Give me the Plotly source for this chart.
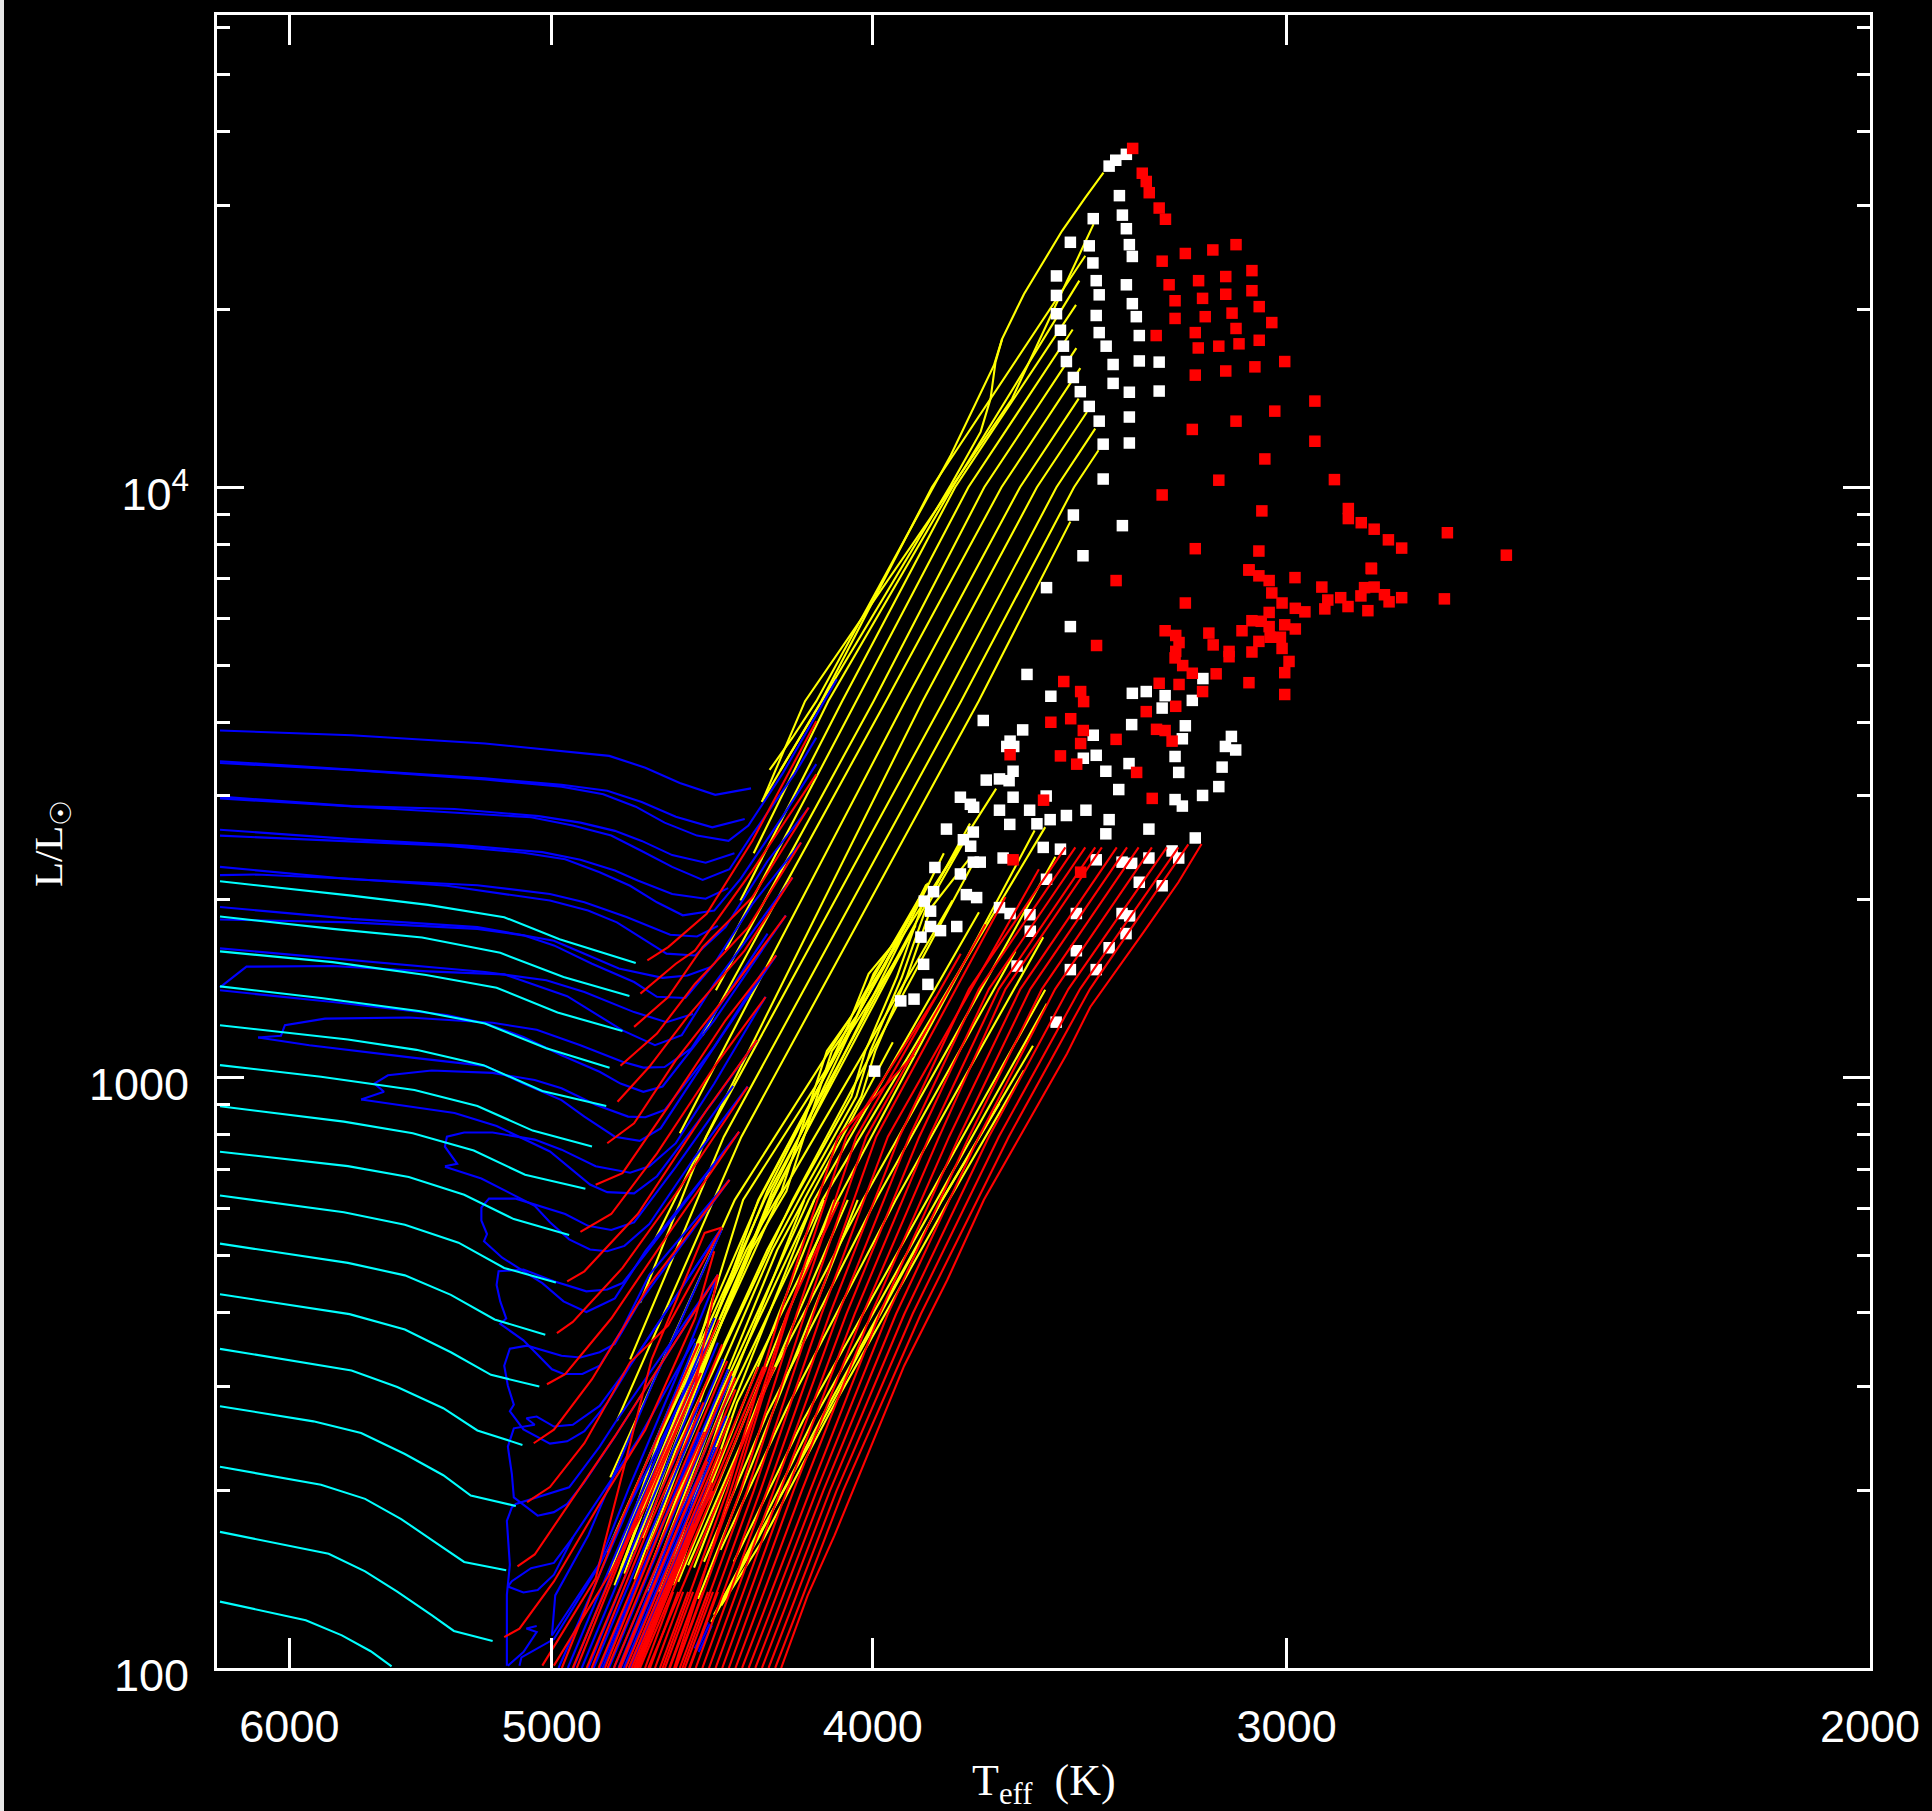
import plotly.graph_objects as go

# ---- tick labels ----
x_ticks = [6000, 5000, 4000, 3000, 2000]
y_ticks = [100, 1000, 10000]
y_tick_text = ["100", "1000", "10<sup>4</sup>"]
y_minor = [200, 300, 400, 500, 600, 700, 800, 900, 2000, 3000, 4000, 5000, 6000, 7000, 8000, 9000, 20000, 30000, 40000, 50000, 60000]

# ---- cyan tracks: log Teff, log L ----
cyan_logT = [
 [3.7991,3.7594,3.7363,3.7133,3.6966,3.6736],
 [3.7991,3.7651,3.7381,3.7145,3.6954,3.6755],
 [3.7991,3.7651,3.7369,3.7156,3.6972,3.6776],
 [3.7991,3.7686,3.7386,3.7191,3.7006,3.6815],
 [3.7991,3.7605,3.7398,3.7196,3.7018,3.6825],
 [3.7991,3.7686,3.7404,3.7214,3.7047,3.6868],
 [3.7991,3.7617,3.7409,3.7225,3.7070,3.6888],
 [3.7991,3.7605,3.7421,3.7254,3.7104,3.6937],
 [3.7991,3.7617,3.7433,3.7271,3.7133,3.6977],
 [3.7991,3.7605,3.7433,3.7294,3.7162,3.7009],
 [3.7991,3.7600,3.7433,3.7294,3.7173,3.7027],
 [3.7991,3.7594,3.7456,3.7317,3.7214,3.7078],
 [3.7991,3.7709,3.7565,3.7433,3.7317,3.7234,3.7098],
 [3.7991,3.7686,3.7553,3.7444,3.7340,3.7254,3.7127],
 [3.7991,3.7663,3.7553,3.7456,3.7352,3.7285,3.7168],
 [3.7991,3.7732,3.7623,3.7536,3.7473],
]
cyan_logL = [
 [3.3326,3.3083,3.2926,3.2717,3.2346,3.1941],
 [3.2729,3.2520,3.2374,3.2115,3.1704,3.1383],
 [3.2138,3.1957,3.1738,3.1524,3.1102,3.0792],
 [3.1546,3.1349,3.1124,3.0916,3.0499,3.0167],
 [3.0888,3.0646,3.0471,3.0212,2.9773,2.9520],
 [3.0212,3.0015,2.9790,2.9520,2.9103,2.8833],
 [2.9514,2.9255,2.9058,2.8765,2.8354,2.8118],
 [2.8746,2.8501,2.8318,2.8016,2.7604,2.7336],
 [2.8004,2.7719,2.7507,2.7205,2.6776,2.6531],
 [2.7188,2.6862,2.6651,2.6320,2.5903,2.5646],
 [2.6331,2.5994,2.5732,2.5349,2.4966,2.4767],
 [2.5406,2.5041,2.4761,2.4401,2.4024,2.3779],
 [2.4435,2.4178,2.3979,2.3625,2.3265,2.2922,2.2745],
 [2.3408,2.3105,2.2865,2.2523,2.2123,2.1797,2.1655],
 [2.2306,2.1934,2.1637,2.1295,2.0895,2.0627,2.0456],
 [2.1124,2.0810,2.0553,2.0284,2.0027],
]

# ---- blue tracks ----
blue_logT = [
 [3.7991,3.7594,3.7191,3.6960,3.6816,3.6707,3.6603,3.6496,3.6388],
 [3.7991,3.7594,3.7191,3.6960,3.6822,3.6718,3.6615,3.6505,3.6407],
 [3.7991,3.7594,3.7191,3.6960,3.6834,3.6736,3.6649,3.6551,3.6456,3.6396,3.6294,3.6129],
 [3.7991,3.7594,3.7283,3.7029,3.6903,3.6799,3.6718,3.6626,3.6525,3.6438],
 [3.7991,3.7594,3.7283,3.7052,3.6926,3.6810,3.6718,3.6626,3.6534,3.6453,3.6390,3.6257,3.6191],
 [3.7991,3.7594,3.7248,3.7018,3.6903,3.6799,3.6730,3.6626,3.6525,3.6457],
 [3.7991,3.7594,3.7306,3.7075,3.6949,3.6845,3.6753,3.6672,3.6594,3.6499,3.6419,3.6292,3.6191],
 [3.7991,3.7594,3.7214,3.6995,3.6891,3.6764,3.6632,3.6551,3.6488],
 [3.7991,3.7882,3.7594,3.7306,3.6995,3.6880,3.6793,3.6707,3.6643,3.6557,3.6465,3.6338,3.6214],
 [3.7991,3.7594,3.7214,3.6983,3.6891,3.6787,3.6655,3.6580,3.6511],
 [3.7991,3.7594,3.7214,3.7075,3.6983,3.6868,3.6741,3.6672,3.6586,3.6499,3.6384,3.6237],
 [3.7991,3.7594,3.7191,3.7006,3.6891,3.6741,3.6643,3.6563],
 [3.7991,3.7911,3.7651,3.7363,3.7133,3.6943,3.6776,3.6678,3.6597,3.6499,3.6263],
 [3.7991,3.7651,3.7306,3.7191,3.7075,3.6960,3.6845,3.6782,3.6713,3.6655,3.6499,3.6283],
 [3.7876,3.7807,3.7795,3.7674,3.7421,3.7168,3.7035,3.6903,3.6776,3.6713,3.6649,3.6569,3.6338],
 [3.7876,3.7721,3.7398,3.7191,3.7075,3.6960,3.6891,3.6799,3.6724,3.6661,3.6499,3.6312],
 [3.7565,3.7496,3.7525,3.7484,3.7352,3.7168,3.7041,3.6960,3.6857,3.6759,3.6707,3.6649,3.6499,3.6344],
 [3.7565,3.7283,3.7156,3.7075,3.6995,3.6874,3.6822,3.6741,3.6672,3.6499,3.6370],
 [3.7312,3.7275,3.7312,3.7306,3.7254,3.7168,3.7041,3.6960,3.6857,3.6753,3.6695,3.6615,3.6499,3.6344],
 [3.7312,3.7202,3.7041,3.6995,3.6937,3.6874,3.6822,3.6770,3.6695,3.6557,3.6398],
 [3.6424,3.6707,3.6799,3.6885,3.6954,3.7018,3.7139,3.7194,3.7185,3.7202,3.7202,3.7179,3.7098,3.6949,3.6880,3.6810,3.6741,3.6615,3.6442],
 [3.6453,3.6695,3.6776,3.6845,3.6897,3.6954,3.6989,3.7075,3.7145,3.7127,3.7145,3.7156,3.7150,3.7075,3.6983,3.6885,3.6822,3.6776,3.6707,3.6424],
 [3.6476,3.6753,3.6822,3.6891,3.6943,3.6995,3.7075,3.7116,3.7104,3.7122,3.7133,3.7116,3.7064,3.6960,3.6903,3.6845,3.6799,3.6730,3.6453],
 [3.6476,3.6741,3.6845,3.6926,3.6983,3.7035,3.7066,3.7041,3.7104,3.7122,3.7110,3.7104,3.7032,3.6983,3.6943,3.6891,3.6799,3.6488],
 [3.7125,3.7125,3.7116,3.7125,3.7110,3.7098,3.6937,3.6845,3.6799,3.6488],
 [3.7122,3.7075,3.7032,3.6983,3.6926,3.6845,3.6730,3.6557],
 [3.7122,3.7110,3.7052,3.6983,3.6926],
 [3.7122,3.7075,3.7035,3.7066,3.7035],
 [3.7087,3.7081,3.6983,3.6845,3.6707,3.6511],
 [3.6989,3.6979,3.6879,3.6688,3.6477],
 [3.6989,3.6849,3.6758,3.6583,3.6488],
 [3.6941,3.6727,3.6498],
 [3.6899,3.6685,3.6488],
 [3.6863,3.6649,3.6472],
 [3.6836,3.6622,3.6457],
 [3.6817,3.6604,3.6447],
 [3.6802,3.6589,3.6447],
 [3.6781,3.6568,3.6462],
 [3.6772,3.6559,3.6493],
 [3.6754,3.6541,3.6518],
 [3.6753,3.6548],
 [3.6757,3.6573],
 [3.6558,3.6518],
 [3.6552,3.6512],
 [3.6546,3.6506],
 [3.6969,3.6774,3.6556],
 [3.6924,3.6745,3.6549],
 [3.6879,3.6700,3.6541],
 [3.6844,3.6652,3.6544],
 [3.6788,3.6610,3.6525],
 [3.6738,3.6556,3.6513],
]
blue_logL = [
 [3.588,3.580,3.566,3.553,3.545,3.525,3.499,3.479,3.490],
 [3.536,3.522,3.507,3.496,3.486,3.467,3.442,3.424,3.438],
 [3.533,3.521,3.505,3.493,3.480,3.459,3.432,3.410,3.401,3.427,3.514,3.675],
 [3.476,3.460,3.455,3.443,3.432,3.418,3.401,3.377,3.364,3.380],
 [3.473,3.459,3.449,3.441,3.427,3.410,3.384,3.357,3.335,3.353,3.407,3.514,3.576],
 [3.420,3.404,3.393,3.382,3.369,3.351,3.334,3.311,3.303,3.321],
 [3.410,3.400,3.393,3.381,3.370,3.348,3.325,3.297,3.275,3.283,3.337,3.443,3.531],
 [3.357,3.336,3.326,3.311,3.297,3.272,3.242,3.239,3.257],
 [3.343,3.344,3.337,3.325,3.300,3.283,3.263,3.232,3.210,3.207,3.255,3.367,3.457],
 [3.289,3.269,3.255,3.232,3.210,3.185,3.169,3.173,3.187],
 [3.268,3.263,3.252,3.241,3.224,3.193,3.162,3.137,3.135,3.193,3.294,3.398],
 [3.219,3.199,3.179,3.165,3.145,3.111,3.094,3.108],
 [3.153,3.188,3.189,3.180,3.175,3.138,3.080,3.055,3.072,3.159,3.339],
 [3.148,3.128,3.106,3.092,3.069,3.038,3.010,2.990,2.976,2.985,3.097,3.275],
 [3.068,3.071,3.089,3.100,3.102,3.093,3.081,3.055,3.027,3.017,3.018,3.049,3.244],
 [3.068,3.055,3.033,3.020,2.990,2.962,2.934,2.900,2.893,2.914,3.052,3.207],
 [2.963,2.976,2.990,3.004,3.012,3.008,2.996,2.982,2.954,2.934,2.933,2.945,3.052,3.187],
 [2.963,2.940,2.918,2.897,2.875,2.819,2.806,2.804,2.833,2.962,3.063],
 [2.850,2.854,2.883,2.900,2.907,2.907,2.895,2.878,2.850,2.839,2.850,2.889,2.990,3.137],
 [2.849,2.829,2.783,2.755,2.726,2.709,2.706,2.715,2.752,2.866,2.985],
 [2.908,2.706,2.626,2.603,2.621,2.652,2.695,2.723,2.735,2.758,2.780,2.795,2.795,2.769,2.749,2.742,2.755,2.849,2.986],
 [2.827,2.666,2.575,2.512,2.498,2.498,2.506,2.555,2.583,2.592,2.621,2.649,2.672,2.675,2.655,2.638,2.641,2.652,2.701,2.908],
 [2.746,2.512,2.449,2.401,2.384,2.380,2.404,2.435,2.446,2.478,2.512,2.541,2.546,2.529,2.526,2.535,2.549,2.615,2.827],
 [2.746,2.523,2.444,2.412,2.409,2.426,2.423,2.412,2.406,2.375,2.329,2.289,2.258,2.264,2.278,2.315,2.392,2.666],
 [2.004,2.124,2.175,2.249,2.272,2.278,2.306,2.375,2.415,2.666],
 [2.138,2.128,2.132,2.158,2.221,2.289,2.386,2.558],
 [2.138,2.147,2.169,2.178,2.221],
 [2.004,2.027,2.061,2.067,2.071],
 [2.004,2.018,2.049,2.175,2.329,2.558],
 [2.055,2.123,2.225,2.478,2.742],
 [2.055,2.174,2.303,2.534,2.666],
 [2.0,2.286,2.593],
 [2.0,2.286,2.551],
 [2.0,2.286,2.523],
 [2.0,2.286,2.506],
 [2.0,2.286,2.495],
 [2.0,2.286,2.475],
 [2.0,2.286,2.427],
 [2.0,2.286,2.374],
 [2.0,2.286,2.317],
 [2.0,2.275],
 [2.0,2.247],
 [2.033,2.078],
 [2.030,2.075],
 [2.027,2.072],
 [2.0,2.25,2.55],
 [2.0,2.25,2.50],
 [2.0,2.25,2.45],
 [2.0,2.25,2.40],
 [2.0,2.25,2.35],
 [2.0,2.25,2.30],
]

# ---- yellow tracks ----
yellow_logT = [
 [3.6332,3.6263,3.6191,3.5785,3.5655,3.5630,3.5564,3.5449,3.5379,3.5324],
 [3.6300,3.5785,3.5695,3.5665,3.5650,3.5630],
 [3.6355,3.6225,3.5600,3.5354],
 [3.6380,3.6155,3.5780,3.5397],
 [3.6355,3.6176,3.5842,3.5379],
 [3.6420,3.6113,3.5772,3.5407],
 [3.6465,3.6070,3.5732,3.5417],
 [3.6494,3.6018,3.5684,3.5406],
 [3.6534,3.5981,3.5632,3.5394],
 [3.6603,3.5923,3.5576,3.5399],
 [3.6683,3.5870,3.5525,3.5374],
 [3.6723,3.6523,3.5807,3.5466,3.5349],
 [3.6753,3.6470,3.5754,3.5413,3.5339],
 [3.6793,3.6417,3.5701,3.5424],
 [3.6813,3.6437,3.5648],
 [3.6824,3.6347,3.5727],
 [3.6820,3.6324,3.5806],
 [3.6508,3.6367,3.6167,3.5811,3.5638],
 [3.6478,3.6350,3.6150,3.5790,3.5564],
 [3.6500,3.6420,3.6190,3.5811,3.5537],
 [3.6490,3.6395,3.6200,3.5827,3.5495],
 [3.6440,3.6230,3.5856,3.5500],
 [3.6480,3.6280,3.5951,3.5506],
 [3.6530,3.6340,3.6011,3.5590],
 [3.6560,3.6360,3.6050,3.5469],
 [3.6620,3.6430,3.6126,3.5532],
 [3.6640,3.6470,3.6172,3.5500],
 [3.6800,3.6590,3.6364,3.5854],
 [3.6700,3.6500,3.6214,3.5960],
 [3.6680,3.6490,3.6197,3.5700],
 [3.6740,3.6530,3.6262,3.5720],
 [3.6770,3.6570,3.6307,3.5780],
 [3.6780,3.6600,3.6366,3.5865],
 [3.6790,3.6620,3.6330,3.5891],
 [3.6800,3.6640,3.6412,3.5944],
 [3.6700,3.6600,3.6324,3.6229,3.6070,3.6028,3.5933,3.5859,3.5745],
 [3.6715,3.6615,3.6339,3.6244,3.6085,3.6043,3.5948,3.5874,3.5760],
 [3.6685,3.6585,3.6309,3.6214,3.6055,3.6013,3.5918,3.5844,3.5730],
 [3.6740,3.6650,3.6387,3.6281,3.6144,3.6070,3.5986,3.5859],
 [3.6755,3.6665,3.6402,3.6296,3.6159,3.6085,3.6001,3.5874],
 [3.6720,3.6324,3.6176,3.6081,3.6018,3.5923],
 [3.6735,3.6339,3.6191,3.6096,3.6033,3.5938],
 [3.6638,3.6167],
 [3.6608,3.6137],
 [3.6578,3.6096],
 [3.6548,3.6066],
 [3.6668,3.6197],
 [3.6698,3.6227],
]
yellow_logL = [
 [3.5212,3.5758,3.6377,4.0544,4.2064,4.2514,4.3275,4.4344,4.4907,4.5330],
 [3.5200,4.0037,4.0938,4.1501,4.2120,4.2514],
 [3.4671,3.6377,4.1500,4.4457],
 [3.3800,3.6377,4.0000,4.3500],
 [3.4671,3.6377,4.0000,4.3922],
 [3.3000,3.6377,4.0000,4.3089],
 [3.2155,3.6377,4.0000,4.2672],
 [3.1479,3.6377,4.0000,4.2357],
 [3.0719,3.6377,4.0000,4.2019],
 [2.9058,3.6377,4.0000,4.1501],
 [2.7199,3.6377,4.0000,4.1276],
 [2.6186,2.9000,3.6377,4.0000,4.0994],
 [2.5229,2.9000,3.6377,4.0000,4.0628],
 [2.4187,2.9000,3.6377,3.9418],
 [2.3230,2.7930,3.4896],
 [2.1963,2.7930,3.4303],
 [2.1570,2.7930,3.3800],
 [2.0780,2.2190,2.4330,2.7930,2.9563],
 [2.1060,2.2190,2.4330,2.7930,3.0126],
 [2.0900,2.1700,2.4000,2.7930,3.0541],
 [2.1000,2.2000,2.4200,2.7930,3.1252],
 [2.1800,2.4200,2.7930,3.1489],
 [2.2000,2.4400,2.7930,3.2378],
 [2.1800,2.4300,2.7930,3.2141],
 [2.1700,2.4600,2.7930,3.3740],
 [2.1400,2.4500,2.7930,3.4185],
 [2.1500,2.4400,2.7930,3.4244],
 [2.2200,2.5000,2.7930,3.3296],
 [2.1600,2.4400,2.7930,3.0600],
 [2.1600,2.4400,2.7930,3.2800],
 [2.1500,2.4700,2.7930,3.3600],
 [2.1600,2.4700,2.7930,3.3000],
 [2.1700,2.4300,2.7930,3.3180],
 [2.1500,2.4100,2.7930,3.2580],
 [2.1400,2.3800,2.7930,3.2050],
 [2.2000,2.3500,2.7080,2.8080,2.9680,3.0450,3.1700,3.2880,3.4000],
 [2.2200,2.3700,2.7080,2.8080,2.9680,3.0450,3.1700,3.2880,3.3900],
 [2.1800,2.3300,2.7080,2.8080,2.9680,3.0450,3.1700,3.2880,3.3700],
 [2.2000,2.3500,2.7080,2.8080,3.0450,3.1040,3.1870,3.3270],
 [2.2400,2.3900,2.7080,2.8080,3.0450,3.1040,3.1870,3.3100],
 [2.2300,2.8080,2.9740,3.0870,3.1760,3.2580],
 [2.2600,2.8080,2.9740,3.0870,3.1760,3.2400],
 [2.129,2.793],
 [2.146,2.793],
 [2.174,2.793],
 [2.117,2.793],
 [2.129,2.793],
 [2.129,2.793],
]

# ---- red tracks ----
red_logT = [
 [3.6297,3.6217,3.6136,3.6026,3.5926,3.5795,3.5685,3.5434,3.5364,3.5203,3.5098,3.5028],
 [3.6315,3.611,3.5875,3.561,3.5365,3.5068],
 [3.6335,3.613,3.590,3.564,3.5395,3.5098],
 [3.6355,3.615,3.5925,3.567,3.543,3.5133],
 [3.6375,3.617,3.595,3.570,3.547,3.5178],
 [3.6395,3.619,3.5975,3.573,3.551,3.5218],
 [3.6415,3.621,3.600,3.576,3.5545,3.5253],
 [3.6435,3.6235,3.6025,3.579,3.5575,3.5284],
 [3.6455,3.626,3.605,3.582,3.562,3.5329],
 [3.6475,3.628,3.6075,3.585,3.564,3.5349],
 [3.6495,3.630,3.610,3.588,3.567,3.5379],
 [3.6515,3.632,3.6125,3.591,3.570,3.5409],
 [3.6535,3.634,3.615,3.594,3.573,3.5439],
 [3.6555,3.636,3.6175,3.5975,3.5519],
 [3.6575,3.638,3.620,3.601,3.562],
 [3.6595,3.640,3.6225,3.604,3.568],
 [3.6615,3.642,3.625,3.607,3.5755],
 [3.6635,3.644,3.6275,3.610,3.583],
 [3.6655,3.646,3.630,3.6125,3.5896],
 [3.662,3.645,3.628,3.6123],
 [3.6701,3.6638,3.6522,3.6384,3.6191],
 [3.6722,3.6615,3.6557,3.6384,3.6191],
 [3.6741,3.6638,3.6534,3.6384,3.6214],
 [3.6782,3.6672,3.6557,3.6396,3.6237],
 [3.6791,3.6695,3.6580,3.6407,3.6263],
 [3.6822,3.6741,3.6615,3.6442,3.6283],
 [3.6857,3.6776,3.6638,3.6465,3.6312],
 [3.6903,3.6810,3.6672,3.6499,3.6344],
 [3.6943,3.6891,3.6730,3.6522,3.6370],
 [3.6974,3.6926,3.6776,3.6615,3.6398],
 [3.7004,3.6949,3.6810,3.6638,3.6424],
 [3.7044,3.6983,3.6868,3.6695,3.6453],
 [3.7064,3.6995,3.6891,3.6753,3.6638,3.6476],
 [3.7093,3.7041,3.6799,3.6638,3.6488],
 [3.7133,3.7087,3.6983,3.6845,3.6707,3.6557,3.6499],
 [3.7018,3.6857,3.6688,3.6528,3.6476],
 [3.6983,3.6810,3.6707,3.6557,3.6488],
 [3.6926,3.6712,3.6485],
 [3.6884,3.6670,3.6475],
 [3.6848,3.6634,3.6460],
 [3.6821,3.6607,3.6445],
 [3.6802,3.6589,3.6435],
 [3.6787,3.6574,3.6435],
 [3.6766,3.6553,3.6450],
 [3.6757,3.6544,3.6480],
 [3.6739,3.6526,3.6505],
 [3.6738,3.6535],
 [3.6742,3.6560],
 [3.6708,3.6623],
 [3.6693,3.6608],
 [3.6678,3.6593],
 [3.6663,3.6578],
 [3.6648,3.6563],
 [3.6633,3.6548],
 [3.6618,3.6533],
 [3.6603,3.6518],
 [3.6588,3.6503],
 [3.6573,3.6488],
 [3.6959,3.6780,3.6546],
 [3.6914,3.6735,3.6539],
 [3.6869,3.6688,3.6531],
 [3.6829,3.6650,3.6529],
 [3.6783,3.6600,3.6520],
 [3.6728,3.6550,3.6503],
 [3.6748,3.6366],
 [3.6733,3.6351],
 [3.6723,3.6341],
 [3.6698,3.6316],
]
red_logL = [
 [2.0,2.1231,2.2245,2.3765,2.5116,2.658,2.7931,3.041,3.1198,3.2465,3.3309,3.3957],
 [2.0,2.3,2.6,2.9,3.15,3.395],
 [2.0,2.3,2.6,2.9,3.15,3.39],
 [2.0,2.3,2.6,2.9,3.15,3.39],
 [2.0,2.3,2.6,2.9,3.15,3.39],
 [2.0,2.3,2.6,2.9,3.15,3.39],
 [2.0,2.3,2.6,2.9,3.15,3.39],
 [2.0,2.3,2.6,2.9,3.15,3.39],
 [2.0,2.3,2.6,2.9,3.15,3.39],
 [2.0,2.3,2.6,2.9,3.15,3.39],
 [2.0,2.3,2.6,2.9,3.15,3.39],
 [2.0,2.3,2.6,2.9,3.15,3.39],
 [2.0,2.3,2.6,2.9,3.15,3.39],
 [2.0,2.3,2.6,2.9,3.353],
 [2.0,2.3,2.6,2.9,3.306],
 [2.0,2.3,2.6,2.9,3.26],
 [2.0,2.3,2.6,2.9,3.21],
 [2.0,2.3,2.6,2.9,3.137],
 [2.0,2.3,2.6,2.9,3.039],
 [2.0,2.3,2.6,2.79],
 [3.1986,3.2211,3.2774,3.4012,3.6039],
 [3.1423,3.1929,3.2155,3.3506,3.5138],
 [3.0860,3.1366,3.2211,3.3055,3.4575],
 [3.0201,3.0747,3.1591,3.2549,3.3984],
 [2.9593,3.0184,3.1029,3.2155,3.3393],
 [2.8889,2.9227,3.0297,3.1535,3.2746],
 [2.8185,2.8383,2.9509,3.0972,3.2070],
 [2.7387,2.7690,2.8718,3.0184,3.1366],
 [2.6548,2.6719,2.7690,2.9452,3.0634],
 [2.5674,2.5863,2.6777,2.8033,2.9846],
 [2.4807,2.4978,2.5920,2.7347,2.9086],
 [2.3807,2.4036,2.4892,2.6491,2.8270],
 [2.2808,2.3065,2.3807,2.5178,2.5806,2.7462],
 [2.1723,2.1923,2.3922,2.5349,2.6662],
 [2.0524,2.0667,2.1466,2.2780,2.4036,2.5920,2.7060],
 [2.004,2.152,2.523,2.737,2.7462],
 [2.004,2.164,2.272,2.478,2.666],
 [2.0,2.286,2.590],
 [2.0,2.286,2.548],
 [2.0,2.286,2.520],
 [2.0,2.286,2.503],
 [2.0,2.286,2.492],
 [2.0,2.286,2.472],
 [2.0,2.286,2.424],
 [2.0,2.286,2.371],
 [2.0,2.286,2.314],
 [2.0,2.272],
 [2.0,2.244],
 [2.0,2.129],[2.0,2.129],[2.0,2.129],[2.0,2.129],[2.0,2.129],
 [2.0,2.129],[2.0,2.129],[2.0,2.129],[2.0,2.129],[2.0,2.129],
 [2.0,2.25,2.55],
 [2.0,2.25,2.50],
 [2.0,2.25,2.45],
 [2.0,2.25,2.40],
 [2.0,2.25,2.35],
 [2.0,2.25,2.30],
 [2.0,2.51],
 [2.0,2.51],
 [2.0,2.51],
 [2.0,2.51],
]

# ---- star samples ----
red_star_logT = [
 3.5236,3.5207,3.5195,3.5186,3.5156,3.5137,3.5147,3.5077,3.4994,3.4924,3.5126,3.5037,3.4955,3.4876,3.5108,3.5025,3.4955,3.4876,
 3.5108,3.5017,3.4936,3.4854,3.4816,3.5047,3.4924,3.5165,3.5038,3.4976,3.4915,3.4854,3.4777,3.5047,3.4955,3.4867,3.4686,3.4807,
 3.4924,3.5056,3.4686,3.4837,3.4976,3.4627,3.5147,3.4846,3.4585,3.4585,3.4546,3.4507,3.4464,3.5047,3.4855,3.4516,3.4885,
 3.4424,3.4286,3.4108,3.4885,3.4855,3.4824,3.4746,3.4515,3.4665,3.4816,3.4785,3.4647,3.4608,3.4536,3.4507,3.4547,3.4476,3.4462,
 3.4424,3.4295,3.4656,3.4586,3.4526,3.4745,3.4716,3.4824,3.4876,3.4848,3.4824,3.4777,3.4745,3.4906,3.5077,3.5286,3.5138,3.5106,
 3.5096,3.5006,3.4993,3.4821,3.4790,3.4855,3.4876,3.4785,3.4945,3.4945,3.5106,3.5108,3.5085,3.5056,3.4764,3.4777,3.4984,3.4885,
 3.4777,3.5345,3.5156,3.5096,3.5025,3.5444,3.5393,3.5384,3.5106,3.5195,3.5423,3.5483,3.5385,3.5164,3.5138,3.5286,3.5393,3.5117,
 3.5454,3.5405,3.5224,3.5177,3.5505,3.5606,3.5597,3.5393,
]
red_star_logL = [
 4.574,4.532,4.518,4.499,4.473,4.454,4.383,4.396,4.402,4.411,4.343,4.350,4.357,4.367,4.316,4.320,4.327,4.333,
 4.286,4.289,4.295,4.306,4.279,4.262,4.269,4.257,4.236,4.239,4.243,4.249,4.213,4.190,4.197,4.204,4.146,4.129,
 4.112,4.098,4.078,4.048,4.012,4.013,3.987,3.960,3.964,3.947,3.940,3.929,3.911,3.896,3.892,3.863,3.860,
 3.897,3.923,3.885,3.860,3.850,3.842,3.847,3.862,3.831,3.821,3.804,3.809,3.813,3.830,3.831,3.816,3.818,3.806,
 3.813,3.811,3.794,3.798,3.791,3.795,3.789,3.788,3.774,3.773,3.764,3.767,3.760,3.757,3.804,3.842,3.757,3.749,
 3.737,3.753,3.733,3.746,3.746,3.739,3.721,3.727,3.722,3.713,3.722,3.711,3.698,3.685,3.705,3.686,3.684,3.669,
 3.649,3.732,3.668,3.666,3.654,3.671,3.654,3.637,3.629,3.620,3.608,3.602,3.588,3.590,3.588,3.573,3.566,3.570,
 3.545,3.531,3.517,3.473,3.470,3.547,3.369,3.348,
]
white_star_logT = [
 3.5255,3.5287,3.5307,3.5276,3.5267,3.5255,3.5246,3.5237,3.5355,3.5424,3.5367,3.5356,3.5466,3.5466,3.5466,3.5454,3.5445,3.5436,
 3.5415,3.5394,3.5367,3.5337,3.5325,3.5325,3.5415,3.5386,3.5267,3.5246,3.5246,3.5246,3.5156,3.5156,3.5216,3.5295,3.5295,3.5316,
 3.5337,3.5346,3.5337,3.5346,3.5255,3.5237,3.5225,3.5216,
 3.5496,3.5424,3.5555,3.5024,3.5483,3.5237,3.5195,3.5138,3.5056,
 3.5687,3.5568,3.5606,3.5616,3.5595,3.5638,3.5678,3.5597,3.5609,3.5756,3.5726,3.5716,3.5597,3.5638,3.5547,3.5485,3.5525,3.5607,
 3.5436,3.5377,3.5307,3.5317,3.5187,3.5798,3.5717,3.5747,3.5725,3.5756,3.5506,3.5454,3.5627,3.5717,3.5696,3.5833,3.5346,3.5268,
 3.5239,3.5187,3.5117,3.5097,3.5047,3.5216,3.5147,3.5496,3.5837,3.5865,3.5738,3.5707,3.5846,3.5638,3.5606,3.5546,3.5406,3.5268,
 3.5245,3.5545,3.5256,3.5846,3.5816,3.5767,3.5875,3.5585,3.5406,3.5307,3.5424,3.5346,3.5867,3.5854,3.5936,3.5896,3.6015,3.5467,
 3.5355,3.5239,3.5147,3.5077,3.5086,3.5108,3.5097,3.4966,3.4976,3.5025,3.5108,3.5086,3.5346,3.5385,3.5247,3.5317,3.5278,3.5497,
 3.4938,3.4956,3.4925,
]
white_star_logL = [
 4.564,4.554,4.544,4.494,4.461,4.438,4.411,4.391,4.455,4.415,4.409,4.380,4.358,4.325,4.294,4.266,4.239,4.213,
 4.186,4.162,4.137,4.112,4.073,4.014,3.953,3.884,3.935,4.075,4.119,4.161,4.163,4.212,4.214,4.176,4.208,4.239,
 4.262,4.291,4.326,4.350,4.343,4.311,4.289,4.257,
 3.830,3.764,3.683,3.676,3.646,3.651,3.654,3.647,3.639,
 3.605,3.589,3.570,3.561,3.561,3.506,3.504,3.519,3.503,3.475,3.463,3.458,3.475,3.453,3.453,3.437,3.430,3.429,
 3.444,3.453,3.437,3.413,3.421,3.421,3.416,3.403,3.392,3.345,3.390,3.387,3.372,3.365,3.365,3.356,3.369,3.365,
 3.363,3.372,3.384,3.372,3.406,3.331,3.325,3.336,3.315,3.299,3.310,3.305,3.282,3.288,3.278,3.276,3.278,3.278,
 3.274,3.248,3.244,3.256,3.249,3.256,3.238,3.189,3.215,3.220,3.183,3.183,3.192,3.158,3.130,3.133,3.011,3.094,
 3.580,3.598,3.626,3.596,3.574,3.544,3.517,3.526,3.493,3.478,3.471,3.460,3.546,3.541,3.532,3.519,3.488,3.477,
 3.578,3.561,3.555,
]

LINE_W = 2.1
fig = go.Figure()


def add_tracks(all_t, all_l, color):
    for t_row, l_row in zip(all_t, all_l):
        fig.add_trace(go.Scatter(
            x=[10 ** v for v in t_row], y=[10 ** v for v in l_row],
            mode="lines", line=dict(color=color, width=LINE_W), hoverinfo="skip"))


def add_stars(t_row, l_row, color):
    fig.add_trace(go.Scatter(
        x=[10 ** v for v in t_row], y=[10 ** v for v in l_row], mode="markers",
        marker=dict(symbol="square", size=11.5, color=color, line=dict(width=0)), hoverinfo="skip"))


add_tracks(yellow_logT, yellow_logL, "#ffff00")
add_stars(white_star_logT, white_star_logL, "#ffffff")
add_stars(red_star_logT, red_star_logL, "#ff0000")
add_tracks(blue_logT, blue_logL, "#0000ff")
add_tracks(red_logT, red_logL, "#ff0000")
add_tracks(cyan_logT, cyan_logL, "#00ffff")

fig.update_xaxes(
    type="log", range=[3.8, 3.30103], tickmode="array", tickvals=x_ticks,
    ticktext=[str(v) for v in x_ticks], ticks="inside", ticklen=30, tickwidth=2.5,
    tickcolor="#ffffff", showline=True, linecolor="#ffffff", linewidth=3, mirror="ticks",
    showgrid=False, zeroline=False, ticklabelstandoff=17,
    tickfont=dict(family="Liberation Sans", size=45, color="#ffffff"))
fig.update_yaxes(
    type="log", range=[2, 4.8], tickmode="array", tickvals=y_ticks, ticktext=y_tick_text,
    ticks="inside", ticklen=27, tickwidth=2.5, tickcolor="#ffffff",
    minor=dict(ticks="inside", ticklen=13, tickwidth=2.5, tickcolor="#ffffff", tickmode="array", tickvals=y_minor),
    showline=True, linecolor="#ffffff", linewidth=3, mirror="ticks", showgrid=False, zeroline=False,
    ticklabelstandoff=16, ticklabelshift=7, tickfont=dict(family="Liberation Sans", size=45, color="#ffffff"))

fig.update_layout(
    width=1928, height=1811, showlegend=False, paper_bgcolor="#000000", plot_bgcolor="#000000",
    margin=dict(l=213, r=59, t=15, b=143),
    annotations=[
        dict(text="T<sub>eff</sub>  (K)", xref="paper", yref="paper", x=0.5, y=-0.088, showarrow=False,
             font=dict(family="Liberation Serif", size=44, color="#ffffff")),
        dict(text="L/L<sub>☉</sub>", xref="paper", yref="paper", x=-0.1173, y=0.4985, showarrow=False, textangle=-90,
             font=dict(family="Liberation Serif", size=41, color="#ffffff")),
    ])

fig.write_html("out.html", post_script="document.body.style.margin='0 0 0 4px';document.body.style.background='#e8e8e8';document.documentElement.style.overflow='hidden';")
